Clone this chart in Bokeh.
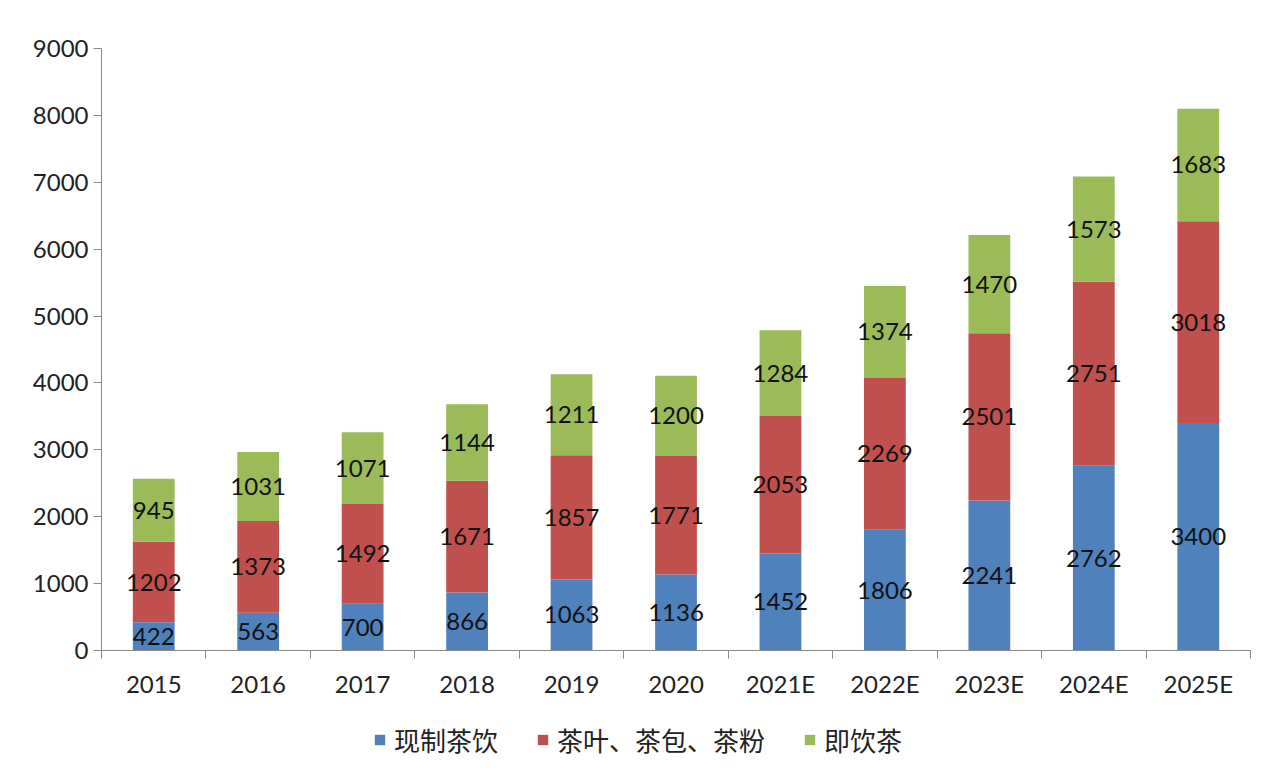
from bokeh.plotting import figure
from bokeh.models import ColumnDataSource, Range1d, FixedTicker, Legend, LegendItem
from bokeh.layouts import column
from bokeh.core.properties import value
from bokeh.embed import file_html
from bokeh.resources import INLINE

years = ["2015", "2016", "2017", "2018", "2019", "2020", "2021E", "2022E", "2023E", "2024E", "2025E"]
fresh = [422, 563, 700, 866, 1063, 1136, 1452, 1806, 2241, 2762, 3400]
leaf = [1202, 1373, 1492, 1671, 1857, 1771, 2053, 2269, 2501, 2751, 3018]
rtd = [945, 1031, 1071, 1144, 1211, 1200, 1284, 1374, 1470, 1573, 1683]
series_names = ["现制茶饮", "茶叶、茶包、茶粉", "即饮茶"]
colors = ["#4F81BD", "#C0504D", "#9BBB59"]

n = len(years)
xs = [i + 0.5 for i in range(n)]

p = figure(frame_width=1149, frame_height=602, output_backend="svg", toolbar_location=None,
           x_range=Range1d(0, n), y_range=Range1d(0, 9000),
           min_border_left=101, min_border_right=8, min_border_top=48, min_border_bottom=60)
p.outline_line_color = None
p.xgrid.grid_line_color = None
p.ygrid.grid_line_color = None
p.background_fill_color = "white"
p.border_fill_color = "white"

font = "Lato"
fs = "24px"

bottom = [0] * n
for vals, col in zip([fresh, leaf, rtd], colors):
    top = [b + v for b, v in zip(bottom, vals)]
    mid = [(b + t) / 2 for b, t in zip(bottom, top)]
    src = ColumnDataSource(dict(x=xs, bottom=bottom, top=top, mid=mid, lab=[str(v) for v in vals]))
    p.vbar(x="x", width=0.4, bottom="bottom", top="top", source=src, fill_color=col, line_color=None)
    p.text(x="x", y="mid", text="lab", source=src, text_align="center", text_baseline="middle",
           text_font=value(font), text_font_size=fs, text_color="#111111")
    bottom = top

# axes
p.yaxis.ticker = FixedTicker(ticks=list(range(0, 9001, 1000)))
p.yaxis.axis_line_color = "#888888"
p.yaxis.major_tick_line_color = "#888888"
p.yaxis.major_tick_in = 0
p.yaxis.major_tick_out = 8
p.yaxis.minor_tick_line_color = None
p.yaxis.major_label_text_font = font
p.yaxis.major_label_text_font_size = fs
p.yaxis.major_label_text_color = "#222222"
p.yaxis.major_label_standoff = 5

p.xaxis.ticker = FixedTicker(ticks=xs, minor_ticks=list(range(0, n + 1)))
p.xaxis.major_label_overrides = {x: y for x, y in zip(xs, years)}
p.xaxis.axis_line_color = "#888888"
p.xaxis.major_tick_line_color = None
p.xaxis.minor_tick_line_color = "#888888"
p.xaxis.minor_tick_in = 0
p.xaxis.minor_tick_out = 8
p.xaxis.major_label_text_font = font
p.xaxis.major_label_text_font_size = fs
p.xaxis.major_label_text_color = "#222222"
p.xaxis.major_label_standoff = 10

# legend in its own strip below the chart (zero-height proxy bars only carry the legend swatches)
lg = figure(width=1258, height=58, output_backend="svg", toolbar_location=None,
            x_range=Range1d(0, 1), y_range=Range1d(0, 1), min_border=0,
            x_axis_type=None, y_axis_type=None)
lg.grid.visible = False
lg.outline_line_color = None
lg.border_fill_color = "white"
items = []
for nm, col in zip(series_names, colors):
    proxy = ColumnDataSource(dict(x=[0], top=[0]))
    r = lg.vbar(x="x", top="top", bottom=0, width=0.01, source=proxy, fill_color=col, line_color=None)
    items.append(LegendItem(label=nm, renderers=[r]))
legend = Legend(items=items, orientation="horizontal", location=(272, 10),
                label_text_font="Noto Sans CJK SC", label_text_font_size="26px",
                label_text_color="#222222", glyph_width=13, glyph_height=13,
                spacing=38, label_standoff=8, border_line_color=None,
                background_fill_alpha=0, margin=0, padding=2)
lg.add_layout(legend)

layout = column(p, lg, spacing=0)
open("out.html", "w").write(file_html(layout, INLINE))
